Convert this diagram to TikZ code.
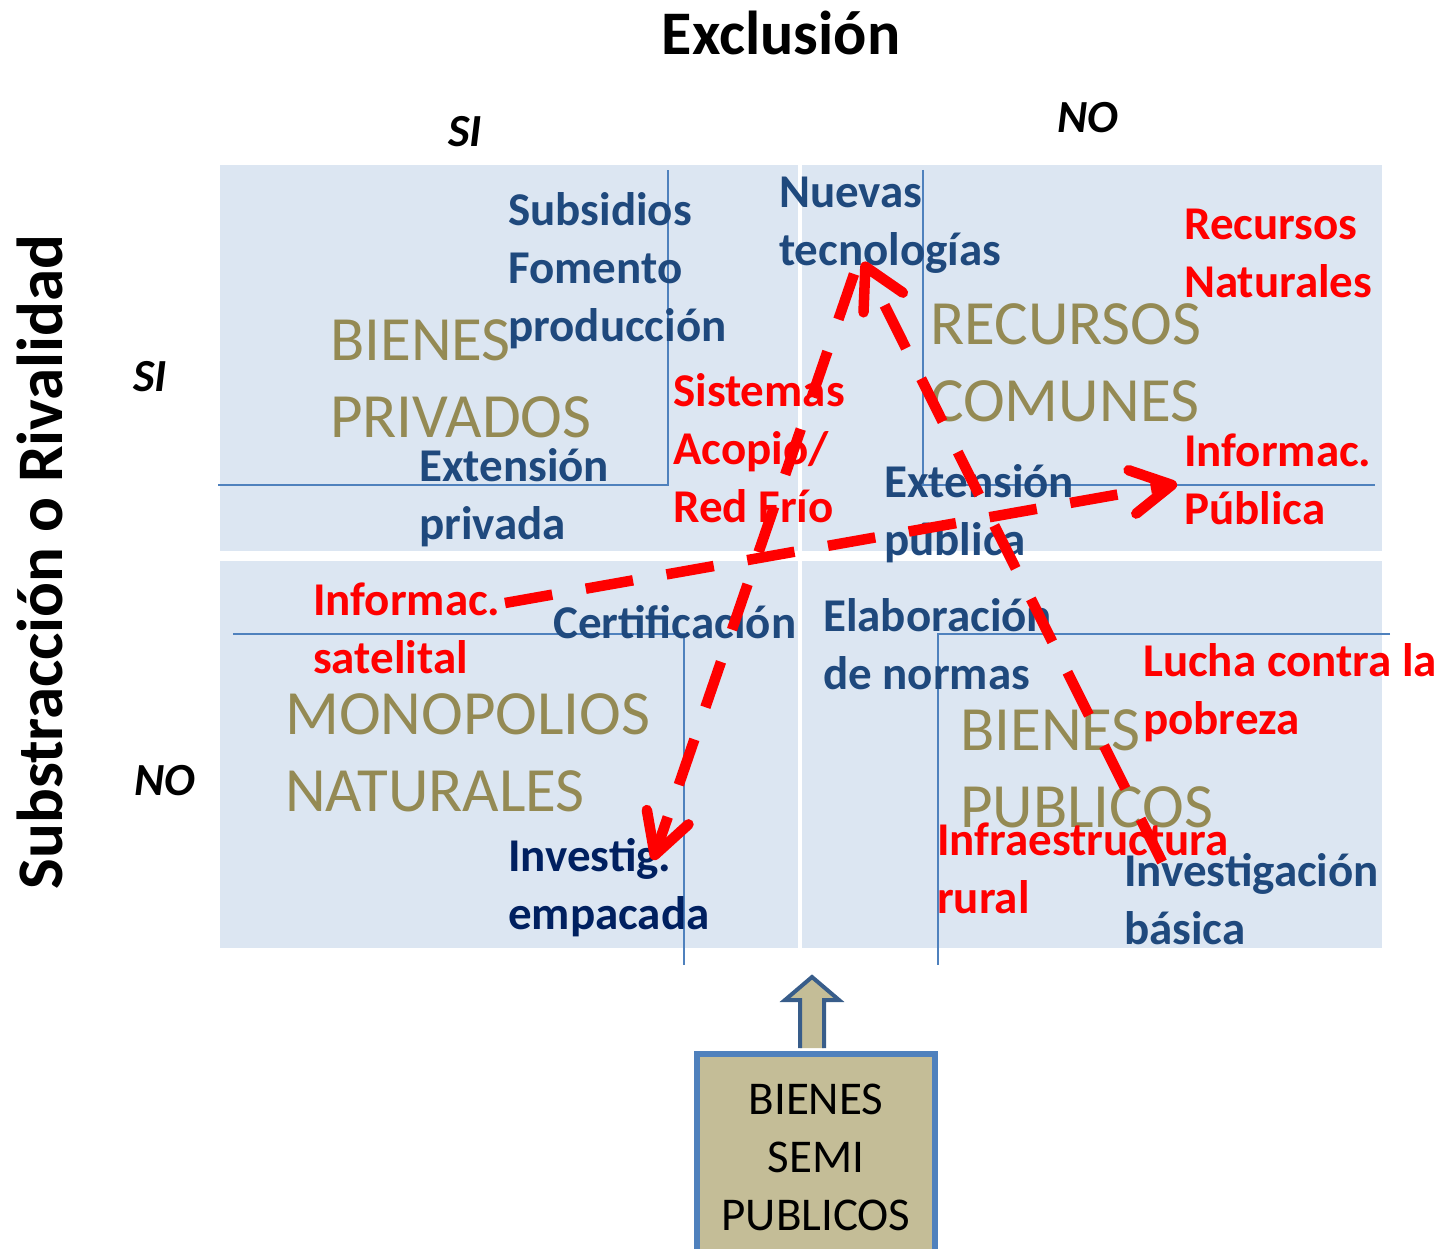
\documentclass[tikz,border=0pt]{standalone}
\usepackage{fontspec}
\setmainfont{Carlito}
\usetikzlibrary{arrows.meta, calc}

\definecolor{panelblue}{HTML}{DCE6F2}
\definecolor{lineblue}{HTML}{4F81BD}
\definecolor{darkblue}{HTML}{1F497D}
\definecolor{navyblue}{HTML}{002060}
\definecolor{olivetxt}{HTML}{948A54}
\definecolor{tanfill}{HTML}{C4BD97}
\definecolor{arrowedge}{HTML}{385D8A}

\tikzset{
  txt/.style={anchor=north west, inner sep=0pt, align=left,
    font=\fontsize{47}{58}\selectfont\bfseries, execute at begin node=\strut},
  bluetxt/.style={txt, text=darkblue},
  navytxt/.style={txt, text=navyblue},
  redtxt/.style={txt, text=red},
  bigtxt/.style={anchor=north west, inner sep=0pt, align=left, text=olivetxt,
    font=\fontsize{63}{77}\selectfont, execute at begin node=\strut},
  yesno/.style={anchor=base, inner sep=0pt, font=\fontsize{46}{56}\selectfont\bfseries\itshape},
  axis/.style={anchor=base, inner sep=0pt, font=\fontsize{62}{74}\selectfont\bfseries},
  frame/.style={lineblue, line width=1.5pt},
  flow/.style={red, line width=10.5pt, dash pattern=on 48pt off 34pt,
    -{Straight Barb[length=40pt, width=44pt, round]}},
  semibox/.style={draw=lineblue, line width=6pt, fill=tanfill, inner sep=0pt,
    minimum width=238pt, minimum height=206pt, align=center,
    font=\fontsize{47}{58}\selectfont},
  blockarrow/.style={draw=arrowedge, line width=4pt, fill=tanfill},
}

\begin{document}
\begin{tikzpicture}[x=1pt, y=-1pt]
  \useasboundingbox (0,0) rectangle (1448,1249);

  % the four quadrants
  \foreach \xa/\xb in {220/798, 802/1382}
    \foreach \ya/\yb in {165/551, 561/948}
      \fill [panelblue] (\xa,\ya) rectangle (\xb,\yb);

  \draw [frame] (218,485) -- (668,485) -- (668,170);
  \draw [frame] (923,170) -- (923,485) -- (1375,485);
  \draw [frame] (233,634) -- (684,634) -- (684,965);
  \draw [frame] (1390,634) -- (938,634) -- (938,965);

  % axes
  \node [axis] (excl) at (781,55) {Exclusión};
  \node [axis, rotate=90, font=\fontsize{65}{78}\selectfont\bfseries] (rival) at (62,562) {Substracción o Rivalidad};
  \node [yesno] (siTop) at (465,147) {SI};
  \node [yesno] (noTop) at (1088,133) {NO};
  \node [yesno] (siLeft) at (150,391) {SI};
  \node [yesno] (noLeft) at (165,795) {NO};

  % kinds of goods
  \node [bigtxt] (bpriv) at (330,319) {BIENES\\PRIVADOS};
  \node [bigtxt] (reccom) at (930,303) {RECURSOS\\COMUNES};
  \node [bigtxt] (mono) at (285,693) {MONOPOLIOS\\NATURALES};
  \node [bigtxt] (bpub) at (960,709) {BIENES\\PUBLICOS};

  % instruments
  \node [bluetxt] (subs) at (508,192) {Subsidios\\Fomento\\producción};
  \node [bluetxt] (nuevas) at (779,177) {Nuevas\\tecnologías};
  \node [bluetxt] (extpriv) at (419,448) {Extensión\\privada};
  \node [bluetxt] (extpub) at (884,464) {Extensión\\pública};
  \node [bluetxt] (certif) at (553,598) {Certificación};
  \node [bluetxt] (elab) at (823,598) {Elaboración\\de normas};
  \node [navytxt] (invemp) at (508,838) {Investig.\\empacada};
  \node [bluetxt] (invbas) at (1124,853) {Investigación\\básica};

  \node [redtxt] (recnat) at (1184,209) {Recursos\\Naturales};
  \node [redtxt] (sist) at (673,373) {Sistemas\\Acopio/\\Red Frío};
  \node [redtxt] (infpub) at (1184,434) {Informac.\\Pública};
  \node [redtxt] (infsat) at (313,583) {Informac.\\satelital};
  \node [redtxt] (lucha) at (1143,643) {Lucha contra la\\pobreza};
  \node [redtxt] (infra) at (937,823) {Infraestructura\\rural};

  % shifts
  \draw [flow] ([shift={(192,20)}]infsat.north west) -- ([shift={(-7,50)}]infpub.north west);
  \draw [flow] ([shift={(38,9)}]invbas.north west) -- ([shift={(84,85)}]nuevas.north west);
  \draw [flow] ([shift={(75,97)}]nuevas.north west) -- ([shift={(145,22)}]invemp.north west);

  % semi public goods
  \node [semibox] (semi) at (816,1157) {BIENES\\SEMI\\PUBLICOS};
  \draw [blockarrow] ($(semi.north)+(-16,-3)$) -- ++(0,-48) -- ++(-15,0)
    -- ($(semi.north)+(-4,-74)$) -- ($(semi.north)+(23,-51)$) -- ++(-15,0)
    -- ($(semi.north)+(8,-3)$);
\end{tikzpicture}
\end{document}
